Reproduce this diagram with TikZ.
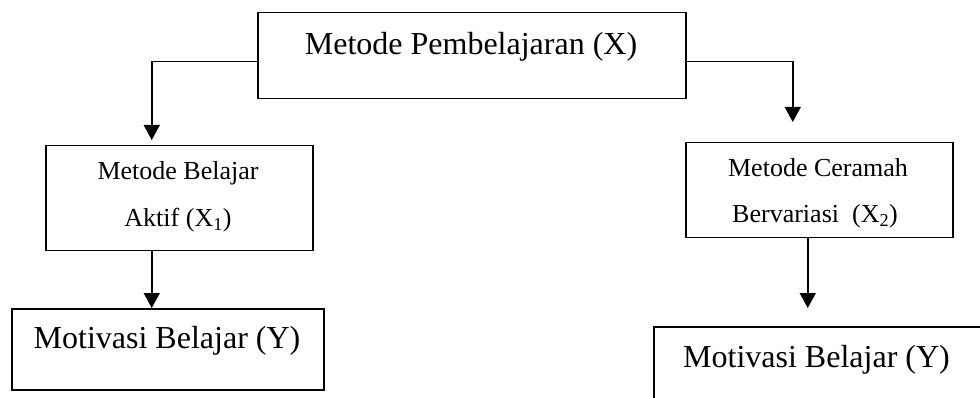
\documentclass[tikz,border=0pt]{standalone}
\usepackage{fontspec}
\setmainfont{Liberation Serif}
\usetikzlibrary{arrows.meta}
\begin{document}
\begin{tikzpicture}[x=1pt,y=-1pt,
  box/.style={draw,line width=1.5pt,rectangle,inner sep=0pt,anchor=north west},
  big/.style={font=\fontsize{32}{38}\selectfont,anchor=base,inner sep=0pt},
  small/.style={font=\fontsize{26}{31}\selectfont,anchor=base,inner sep=0pt},
  arr/.style={line width=1.5pt,-{Triangle[width=16pt,length=15pt]}}]
\useasboundingbox (0,0) rectangle (980,398);
\clip (0,0) rectangle (980,398);
\node[box,minimum width=428pt,minimum height=86pt] (T) at (257,12) {};
\node[box,minimum width=267pt,minimum height=105pt] (L1) at (45,145) {};
\node[box,minimum width=312pt,minimum height=81pt] (L2) at (11,308) {};
\node[box,minimum width=267pt,minimum height=95pt] (R1) at (685,142) {};
\node[box,minimum width=360pt,minimum height=100pt] (R2) at (653,326) {};
\node[big] (tT) at (471,55) {Metode Pembelajaran (X)};
\node[small] (tL1a) at (178,180) {Metode Belajar};
\node[small] (tL1b) at (178,227) {Aktif (X\textsubscript{1})};
\node[small] (tR1a) at (818,177) {Metode Ceramah};
\node[small] (tR1b) at (815,223) {Bervariasi\ \ (X\textsubscript{2})};
\node[big] (tL2) at (167,348) {Motivasi Belajar (Y)};
\node[big,anchor=base west] (tR2) at (683,367) {Motivasi Belajar (Y)};
\draw[arr,shorten >=5pt] ([yshift=-6pt]T.west) -| ([xshift=-27.5pt]L1.north);
\draw[arr,shorten >=20pt] ([yshift=-6pt]T.east) -| ([xshift=-26.5pt]R1.north);
\draw[arr] ([xshift=-27.5pt]L1.south) -- ([xshift=-27.5pt]L1.south |- L2.north);
\draw[arr,shorten >=18pt] ([xshift=-11.5pt]R1.south) -- ([xshift=-11.5pt]R1.south |- R2.north);
\end{tikzpicture}
\end{document}
